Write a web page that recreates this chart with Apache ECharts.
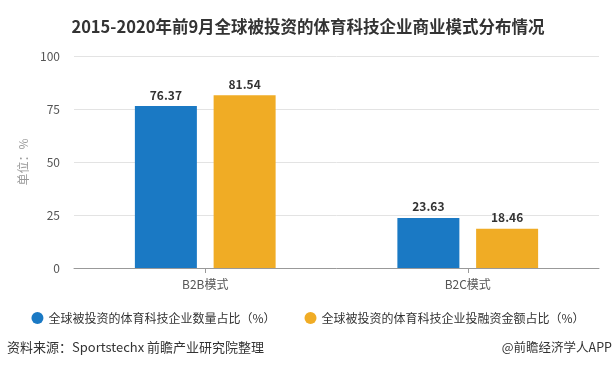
<!DOCTYPE html>
<html><head><meta charset="utf-8">
<script src="https://cdn.jsdelivr.net/npm/echarts@6/dist/echarts.min.js"></script>
<style>html,body{margin:0;padding:0;background:#fff}#c{width:616px;height:371px}</style>
</head><body><div id="c"></div>
<script>
const categories = ['B2B模式', 'B2C模式'];
const seriesNames = ['全球被投资的体育科技企业数量占比（%）', '全球被投资的体育科技企业投融资金额占比（%）'];
const countShare = [76.37, 23.63];
const amountShare = [81.54, 18.46];
const yTicks = [0, 25, 50, 75, 100];

const FONT = '"Noto Sans CJK SC", "Noto Sans", sans-serif';
const chart = echarts.init(document.getElementById('c'), null, {renderer: 'canvas'});
chart.setOption({
  animation: false,
  textStyle: {fontFamily: FONT},
  title: {
    text: '2015-2020年前9月全球被投资的体育科技企业商业模式分布情况',
    left: 'center', top: 13,
    textStyle: {fontSize: 16.5, fontWeight: 'bold', color: '#333', fontFamily: FONT}
  },
  graphic: [
    {type: 'text', left: 7, top: 341, style: {text: '资料来源：Sportstechx 前瞻产业研究院整理', fill: '#333', font: '13px ' + FONT}},
    {type: 'text', right: 4, top: 341, style: {text: '@前瞻经济学人APP', fill: '#333', font: '12.5px ' + FONT}}
  ],
  legend: {
    left: 'center', top: 307,
    icon: 'circle', itemWidth: 12, itemHeight: 12, itemGap: 29,
    textStyle: {fontSize: 12, color: '#333', fontFamily: FONT},
    data: seriesNames
  },
  grid: {left: 74, right: 17, top: 56, bottom: 103},
  xAxis: {
    type: 'category', data: categories,
    axisLine: {lineStyle: {color: '#999'}},
    axisTick: {show: true, alignWithLabel: true, length: 5, lineStyle: {color: '#999'}},
    axisLabel: {color: '#555', fontSize: 12, margin: 10, fontFamily: FONT}
  },
  yAxis: {
    type: 'value', min: yTicks[0], max: yTicks[yTicks.length - 1], interval: 25,
    name: '单位：%', nameLocation: 'middle', nameRotate: 90, nameGap: 44,
    nameTextStyle: {color: '#999', fontSize: 12, fontFamily: FONT},
    axisLine: {show: false}, axisTick: {show: false},
    axisLabel: {color: '#555', fontSize: 12, margin: 14, fontFamily: FONT},
    splitLine: {lineStyle: {color: '#e3e3e3'}}
  },
  series: [
    {name: seriesNames[0], type: 'bar', data: countShare, barWidth: 62, barGap: '27%',
     itemStyle: {color: '#1a79c4'},
     label: {show: true, position: 'top', distance: 5, fontSize: 12, fontWeight: 'bold', color: '#333', fontFamily: FONT}},
    {name: seriesNames[1], type: 'bar', data: amountShare, barWidth: 62,
     itemStyle: {color: '#f0ac25'},
     label: {show: true, position: 'top', distance: 5, fontSize: 12, fontWeight: 'bold', color: '#333', fontFamily: FONT}}
  ]
});
</script></body></html>
